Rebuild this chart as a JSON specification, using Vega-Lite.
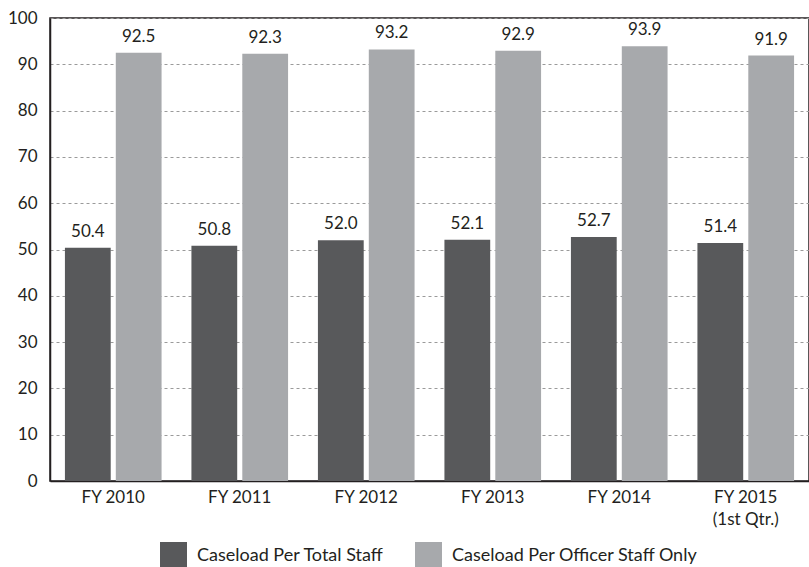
{
  "$schema": "https://vega.github.io/schema/vega-lite/v6.json",
  "autosize": {"type": "none"},
  "padding": {"left": 50, "top": 18, "right": 0, "bottom": 86},
  "width": 759,
  "height": 463,
  "background": "white",
  "config": {
    "font": "Lato",
    "view": {"stroke": "#231f20", "strokeWidth": 1.5},
    "axis": {"labelFont": "Lato", "labelFontSize": 17, "labelColor": "#231f20"}
  },
  "data": {
    "values": [
      {"year": "FY 2010", "series": "Caseload Per Total Staff", "value": 50.4},
      {"year": "FY 2010", "series": "Caseload Per Officer Staff Only", "value": 92.5},
      {"year": "FY 2011", "series": "Caseload Per Total Staff", "value": 50.8},
      {"year": "FY 2011", "series": "Caseload Per Officer Staff Only", "value": 92.3},
      {"year": "FY 2012", "series": "Caseload Per Total Staff", "value": 52.0},
      {"year": "FY 2012", "series": "Caseload Per Officer Staff Only", "value": 93.2},
      {"year": "FY 2013", "series": "Caseload Per Total Staff", "value": 52.1},
      {"year": "FY 2013", "series": "Caseload Per Officer Staff Only", "value": 92.9},
      {"year": "FY 2014", "series": "Caseload Per Total Staff", "value": 52.7},
      {"year": "FY 2014", "series": "Caseload Per Officer Staff Only", "value": 93.9},
      {"year": "FY 2015|(1st Qtr.)", "series": "Caseload Per Total Staff", "value": 51.4},
      {"year": "FY 2015|(1st Qtr.)", "series": "Caseload Per Officer Staff Only", "value": 91.9}
    ]
  },
  "encoding": {
    "x": {
      "field": "year", "type": "nominal", "sort": null,
      "scale": {"paddingInner": 0.236, "paddingOuter": 0.118},
      "axis": {
        "title": null, "labelAngle": 0, "ticks": false, "labelPadding": 8,
        "domainColor": "#231f20", "domainWidth": 1.5,
        "labelExpr": "split(datum.label, '|')", "labelLineHeight": 22
      }
    },
    "xOffset": {
      "field": "series", "type": "nominal",
      "sort": ["Caseload Per Total Staff", "Caseload Per Officer Staff Only"],
      "scale": {"paddingInner": 0.1}
    },
    "y": {
      "field": "value", "type": "quantitative",
      "scale": {"domain": [0, 100], "nice": false},
      "axis": {
        "title": null, "values": [0,10,20,30,40,50,60,70,80,90,100],
        "ticks": false, "labelPadding": 13,
        "domainColor": "#231f20", "domainWidth": 1.5,
        "grid": true, "gridDash": [3, 3], "gridColor": "#9a9a9a", "gridWidth": 1
      }
    }
  },
  "layer": [
    {
      "mark": {"type": "bar"},
      "encoding": {
        "color": {
          "field": "series", "type": "nominal",
          "sort": ["Caseload Per Total Staff", "Caseload Per Officer Staff Only"],
          "scale": {"domain": ["Caseload Per Total Staff", "Caseload Per Officer Staff Only"], "range": ["#58595b", "#a7a9ac"]},
          "legend": {
            "title": null, "orient": "none", "direction": "horizontal",
            "legendX": 110, "legendY": 524,
            "symbolType": "square", "symbolSize": 729, "symbolStrokeWidth": 0,
            "labelFontSize": 18, "labelColor": "#231f20", "labelFont": "Lato",
            "labelLimit": 0, "columnPadding": 31, "labelOffset": 10
          }
        }
      }
    },
    {
      "mark": {"type": "text", "baseline": "bottom", "dy": -7, "fontSize": 17, "color": "#231f20"},
      "encoding": {
        "text": {"field": "value", "type": "quantitative", "format": ".1f"}
      }
    }
  ]
}
